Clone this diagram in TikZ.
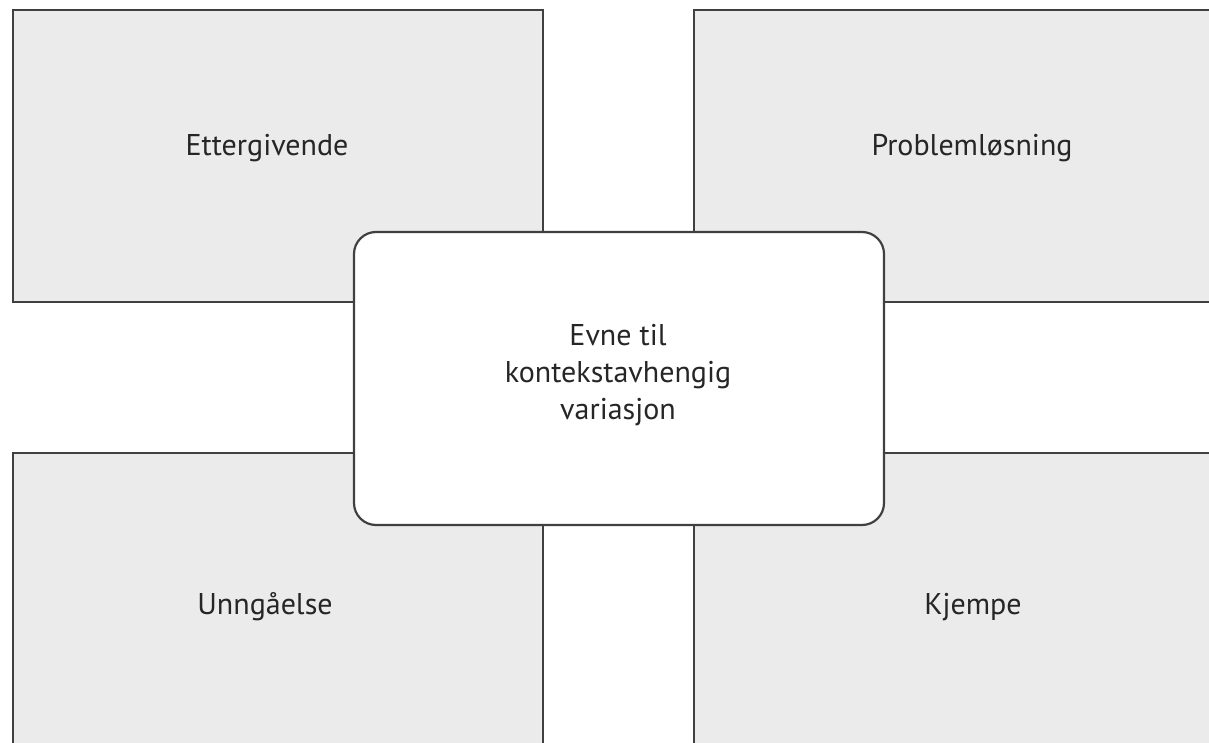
\documentclass[tikz,border=0pt]{standalone}
\usepackage{fontspec}
\setmainfont{PT Sans}
\begin{document}
\begin{tikzpicture}[x=1pt,y=-1pt,
  quad/.style={draw=black!75,line width=2.2pt,fill=black!8},
  centre/.style={draw=black!75,line width=2.2pt,fill=white,rounded corners=22pt},
  lbl/.style={font=\fontsize{30}{37}\selectfont,text=black!85,align=center}]
\useasboundingbox (0,0) rectangle (1209,743);
\clip (0,0) rectangle (1209,743);
\draw[quad] (13,10) rectangle (543,302);
\draw[quad] (694,10) rectangle (1220,302);
\draw[quad] (13,453) rectangle (543,760);
\draw[quad] (694,453) rectangle (1220,760);
\draw[centre] (354,232) rectangle (884,525);
\node[lbl] (a) at (267,148) {Ettergivende};
\node[lbl] (b) at (972,148) {Problemløsning};
\node[lbl] (c) at (265,607) {Unngåelse};
\node[lbl] (d) at (973,607) {Kjempe};
\node[lbl] (e) at (618,375) {Evne til\\kontekstavhengig\\variasjon};
\end{tikzpicture}
\end{document}
